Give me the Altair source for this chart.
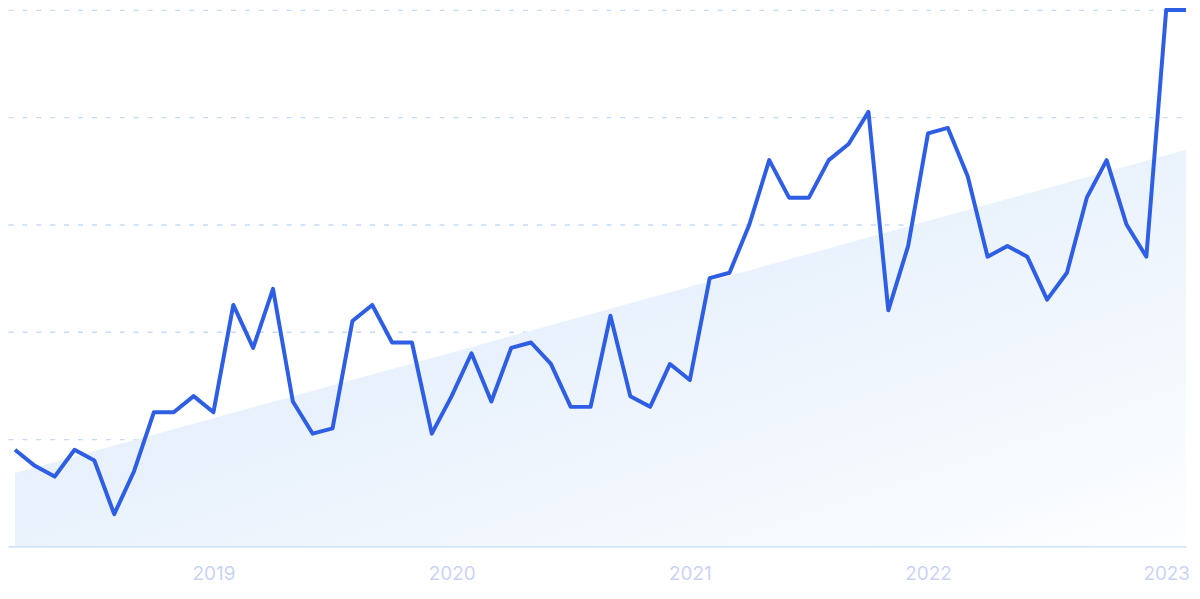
import altair as alt
import pandas as pd

# Monthly interest values, March 2018 .. February 2023 (index 0 = 2018-03)
month_index = list(range(60))
values = [18, 15, 13, 18, 16, 6, 14, 25, 25, 28,
          25, 45, 37, 48, 27, 21, 22, 42, 45, 38,
          38, 21, 28, 36, 27, 37, 38, 34, 26, 26,
          43, 28, 26, 34, 31, 50, 51, 60, 72, 65,
          65, 72, 75, 81, 44, 56, 77, 78, 69, 54,
          56, 54, 46, 51, 65, 72, 60, 54, 100, 100]
year_tick_index = [10, 22, 34, 46, 58]   # January of 2019..2023
first_year = 2019

df = pd.DataFrame({"i": month_index, "v": values})

x_scale = alt.Scale(domain=[-0.3515, 59], nice=False, zero=False)
y_scale = alt.Scale(domain=[0, 100], nice=False)

x_axis = alt.Axis(
    values=year_tick_index,
    labelExpr=f"toString({first_year} + (datum.value - {year_tick_index[0]}) / 12)",
    title=None, grid=False, ticks=False, tickSize=0,
    labelPadding=18, labelFontSize=19, labelFont="Inter",
    labelColor="#c9d4f4", labelFlush=False, labelOverlap=False, labelBound=False,
    domain=True, domainColor="#c6ddf8", domainWidth=1.5,
)
y_axis = alt.Axis(
    values=[20, 40, 60, 80, 100], title=None, labels=False, ticks=False,
    domain=False, grid=True, gridDash=[5, 9], gridColor="#c4daf9", gridWidth=1.3,
)

trend = alt.Chart(df).transform_regression("i", "v").mark_area(
    color=alt.Gradient(
        gradient="linear",
        stops=[alt.GradientStop(color="#d8e7fa", offset=0),
               alt.GradientStop(color="#fdfeff", offset=1)],
        x1=0, y1=0, x2=1, y2=1,
    ),
).encode(
    x=alt.X("i:Q", scale=x_scale, axis=x_axis),
    y=alt.Y("v:Q", scale=y_scale, axis=y_axis),
    y2=alt.datum(0),
)

line = alt.Chart(df).mark_line(
    color="#2e5ee4", strokeWidth=4, strokeJoin="round", strokeCap="butt", clip=False
).encode(
    x=alt.X("i:Q", scale=x_scale),
    y=alt.Y("v:Q", scale=y_scale),
)

chart = alt.layer(trend, line).properties(
    width=1186, height=540,
    autosize=alt.AutoSizeParams(type="none"),
    padding={"left": 0, "top": 0, "right": 6, "bottom": 40},
    background="white",
).configure_view(stroke=None)

chart.save("out.html", embed_options={"renderer": "svg", "actions": False})
